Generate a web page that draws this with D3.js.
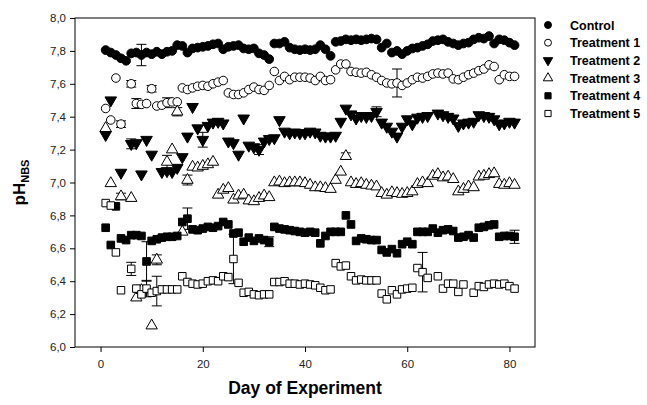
<!DOCTYPE html>
<html>
<head>
<meta charset="utf-8">
<script src="https://cdn.jsdelivr.net/npm/d3@7"></script>
<style>
  body { margin: 0; background: #fff; }
  svg { font-family: "Liberation Sans", Arial, sans-serif; }
</style>
</head>
<body>
<svg id="chart" width="647" height="405"></svg>
<script>
// days 1..81, null = no reading
const days = d3.range(1, 82);

const control = [7.805,7.79,7.775,7.755,7.74,7.785,7.79,7.775,7.79,7.78,7.795,7.78,7.795,7.80,7.835,7.83,7.79,7.815,7.82,7.825,
  7.83,7.84,7.845,7.81,7.825,7.83,7.835,7.815,7.81,7.815,7.785,7.775,7.75,7.845,7.845,7.855,7.82,7.81,7.805,7.81,
  7.805,7.81,7.835,7.81,7.77,7.855,7.86,7.87,7.865,7.87,7.865,7.87,7.875,7.87,7.82,7.845,7.79,7.80,7.78,7.80,
  7.815,7.82,7.83,7.84,7.86,7.865,7.87,7.855,7.845,7.835,7.845,7.85,7.87,7.88,7.875,7.89,7.845,7.87,7.865,7.85,7.835];

const treatment1 = [7.45,7.38,7.635,7.355,null,7.60,7.48,7.475,7.48,7.57,7.465,7.47,7.485,7.49,7.49,7.575,7.565,7.575,7.585,7.59,
  7.585,7.60,7.61,7.62,7.545,7.535,7.535,7.545,7.565,7.58,7.565,7.56,7.59,7.675,7.62,7.645,7.625,7.64,7.64,7.64,
  7.635,7.62,7.645,7.62,7.625,7.685,7.72,7.72,7.675,7.67,7.665,7.67,7.655,7.64,7.62,7.605,7.60,7.605,7.59,7.605,
  7.625,7.64,7.635,7.645,7.66,7.665,7.66,7.665,7.63,7.625,7.64,7.655,7.665,7.68,7.69,7.715,7.705,7.625,7.655,7.645,7.645];

const treatment2 = [7.29,7.50,null,7.06,null,7.235,7.24,7.05,7.26,7.17,null,7.065,7.07,7.065,7.09,7.155,7.28,7.46,7.33,7.26,
  7.345,7.365,7.37,7.36,7.25,7.24,7.17,7.39,7.225,7.215,7.20,7.25,7.265,7.27,7.38,7.31,7.30,7.305,7.30,7.30,
  7.31,7.305,7.285,7.28,7.28,7.285,7.37,7.45,7.415,7.39,7.405,7.40,7.405,7.43,7.365,7.34,7.31,7.28,7.34,7.385,
  7.355,7.395,7.40,7.405,null,7.42,7.41,7.40,7.39,7.345,7.36,7.365,7.37,7.41,7.405,7.40,7.385,7.355,7.36,7.37,7.365];

const treatment3 = [7.33,6.995,null,6.915,null,6.905,6.30,6.345,null,6.13,6.53,null,7.125,7.20,7.43,6.70,7.015,7.095,7.09,7.10,
  7.11,7.125,6.925,6.955,6.965,6.895,6.92,6.925,6.89,6.885,6.905,6.92,6.91,7.0,7.005,6.995,7.0,7.0,7.0,6.995,
  6.985,6.97,6.97,6.965,6.96,7.015,7.065,7.16,7.0,6.99,6.995,6.985,6.98,6.975,6.935,6.925,6.94,6.935,6.93,6.935,
  6.945,6.99,7.0,6.995,7.04,7.05,7.03,7.035,7.02,6.945,6.96,6.975,6.97,7.035,7.04,7.05,7.055,6.99,6.985,6.995,6.985];

const treatment4 = [6.725,6.62,6.855,6.66,6.65,6.68,6.68,6.675,6.52,6.645,6.655,6.665,6.67,6.67,6.675,6.76,6.78,6.715,6.71,6.72,
  6.73,6.725,6.735,6.76,6.745,6.69,6.695,6.64,6.665,6.645,6.66,6.65,6.64,6.73,6.72,6.715,6.71,6.705,6.70,6.695,
  6.70,6.695,6.63,6.675,6.70,6.70,6.70,6.80,6.745,6.645,6.66,6.655,6.65,6.65,6.59,6.575,6.595,6.57,6.625,6.64,
  6.625,6.70,6.70,6.70,6.72,6.695,6.71,6.715,6.705,6.665,6.67,6.68,6.665,6.725,6.73,6.74,6.745,6.67,6.675,6.675,6.67];

const treatment5 = [6.875,6.86,6.575,6.345,null,6.475,6.355,6.32,6.355,6.33,6.34,6.35,6.35,6.35,6.35,6.43,6.395,6.385,6.38,6.385,
  6.40,6.405,6.40,6.43,6.425,6.535,6.39,6.33,6.335,6.32,6.315,6.32,6.32,6.395,6.395,6.40,6.385,6.385,6.38,6.385,
  6.38,6.375,6.36,6.345,6.35,6.51,6.49,6.495,6.43,6.405,6.41,6.405,6.405,6.405,6.325,6.29,6.345,6.32,6.35,6.355,
  6.36,6.48,6.455,6.42,null,6.43,6.355,6.385,6.385,6.335,6.38,null,6.33,6.37,6.365,6.38,6.385,6.38,6.385,6.37,6.355];

const seriesNames = ["Control", "Treatment 1", "Treatment 2", "Treatment 3", "Treatment 4", "Treatment 5"];
const seriesValues = [control, treatment1, treatment2, treatment3, treatment4, treatment5];

// error bars: series index, day, half-width
const errSeries = [0, 1, 1, 1, 1, 1, 1, 2, 2, 2, 2, 3, 3, 3, 3, 3, 3, 3, 4, 4, 4, 4, 5, 5, 5, 5, 5];
const errDays   = [8, 4, 6, 7, 10, 13, 58, 6, 20, 31, 54, 4, 8, 11, 13, 15, 17, 48, 9, 17, 33, 81, 6, 9, 11, 26, 63];
const errSizes  = [0.065, 0.02, 0.02, 0.03, 0.02, 0.03, 0.085, 0.03, 0.045, 0.03, 0.03, 0.02, 0.03, 0.03, 0.04, 0.025, 0.03, 0.02,
                   0.12, 0.065, 0.03, 0.04, 0.04, 0.05, 0.09, 0.15, 0.12];

const xTicks = [0, 20, 40, 60, 80];
const yTicks = [6.0, 6.2, 6.4, 6.6, 6.8, 7.0, 7.2, 7.4, 7.6, 7.8, 8.0];

const svg = d3.select("#chart");
const plotLeft = 75, plotRight = 535, plotTop = 18, plotBottom = 347;

const x = d3.scaleLinear().domain([-5, 85]).range([plotLeft, plotRight]);
const y = d3.scaleLinear().domain([6.0, 8.0]).range([plotBottom, plotTop]);

// marker styles per series
const symbols = [
  { type: d3.symbolCircle, size: 60, fill: "#000", rot: 0 },
  { type: d3.symbolCircle, size: 58, fill: "#fff", rot: 0 },
  { type: d3.symbolTriangle, size: 58, fill: "#000", rot: 180 },
  { type: d3.symbolTriangle, size: 56, fill: "#fff", rot: 0 },
  { type: d3.symbolSquare, size: 58, fill: "#000", rot: 0 },
  { type: d3.symbolSquare, size: 56, fill: "#fff", rot: 0 }
];

// frame
svg.append("rect")
  .attr("x", plotLeft).attr("y", plotTop)
  .attr("width", plotRight - plotLeft).attr("height", plotBottom - plotTop)
  .attr("fill", "none").attr("stroke", "#000").attr("stroke-width", 1);

// axes
const xAxis = svg.append("g")
  .attr("transform", `translate(0,${plotBottom})`)
  .call(d3.axisBottom(x).tickValues(xTicks).tickSize(5).tickSizeOuter(0).tickPadding(8));
const yAxis = svg.append("g")
  .attr("transform", `translate(${plotLeft},0)`)
  .call(d3.axisLeft(y).tickValues(yTicks).tickSize(5).tickSizeOuter(0).tickPadding(4)
    .tickFormat(d => d3.format(".1f")(d).replace(".", ",")));
[xAxis, yAxis].forEach(g => {
  g.select(".domain").remove();
  g.selectAll("text").attr("font-size", 11.5).attr("fill", "#222")
    .attr("font-family", "'Liberation Sans', Arial, sans-serif");
  g.selectAll("line").attr("stroke", "#000");
});

// error bars
const errData = errDays.map((d, i) => {
  const s = errSeries[i];
  return { day: d, v: seriesValues[s][d - 1], e: errSizes[i] };
});
const eb = svg.append("g").attr("stroke", "#000").attr("stroke-width", 1);
errData.forEach(d => {
  const cx = x(d.day);
  eb.append("line").attr("x1", cx).attr("x2", cx).attr("y1", y(d.v - d.e)).attr("y2", y(d.v + d.e));
  [d.v - d.e, d.v + d.e].forEach(v => {
    eb.append("line").attr("x1", cx - 5).attr("x2", cx + 5).attr("y1", y(v)).attr("y2", y(v));
  });
});

// points
seriesValues.forEach((vals, s) => {
  const sym = symbols[s];
  const pts = days.map((d, i) => ({ day: d, v: vals[i] })).filter(p => p.v !== null);
  svg.append("g").selectAll("path")
    .data(pts)
    .join("path")
    .attr("d", d3.symbol().type(sym.type).size(sym.size))
    .attr("transform", p => `translate(${x(p.day)},${y(p.v)}) rotate(${sym.rot})`)
    .attr("fill", sym.fill)
    .attr("stroke", "#000")
    .attr("stroke-width", 1);
});

// legend
const legend = svg.append("g");
seriesNames.forEach((name, i) => {
  const ly = 25 + i * 17.7;
  const sym = symbols[i];
  legend.append("path")
    .attr("d", d3.symbol().type(sym.type).size(38))
    .attr("transform", `translate(548,${ly}) rotate(${sym.rot})`)
    .attr("fill", sym.fill).attr("stroke", "#000").attr("stroke-width", 1);
  legend.append("text")
    .attr("x", 570).attr("y", ly + 4.5)
    .attr("font-size", 12.5).attr("font-weight", "bold")
    .text(name);
});

// axis titles
svg.append("text")
  .attr("x", (plotLeft + plotRight) / 2).attr("y", 394)
  .attr("text-anchor", "middle")
  .attr("font-size", 17.5).attr("font-weight", "bold")
  .text("Day of Experiment");

const yt = svg.append("text")
  .attr("transform", `translate(25,${(plotTop + plotBottom) / 2}) rotate(-90)`)
  .attr("text-anchor", "middle")
  .attr("font-size", 17).attr("font-weight", "bold");
yt.append("tspan").text("pH");
yt.append("tspan").attr("font-size", 11).attr("dy", 4).text("NBS");
</script>
</body>
</html>
